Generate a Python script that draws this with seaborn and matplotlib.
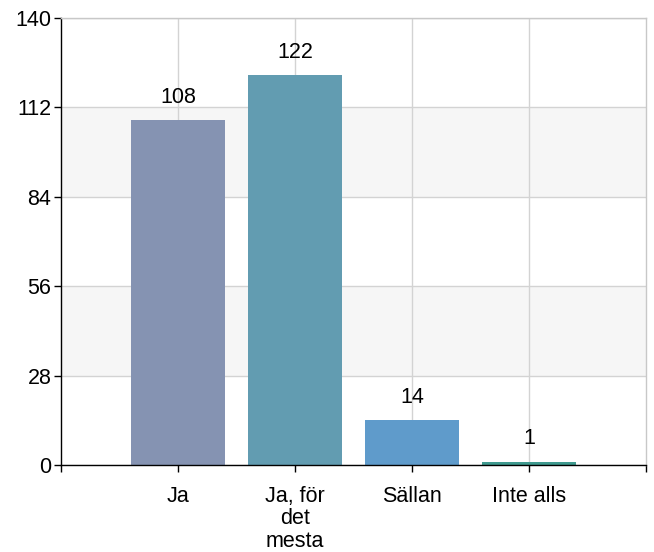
import pandas as pd
import matplotlib.pyplot as plt
import seaborn as sns

# data
categories = ["Ja", "Ja, för det mesta", "Sällan", "Inte alls"]
tick_labels = ["Ja", "Ja, för\ndet\nmesta", "Sällan", "Inte alls"]
counts = [108, 122, 14, 1]
bar_colors = ["#8593b2", "#629cb1", "#5f9bcb", "#3f9a8f"]
y_ticks = [0, 28, 56, 84, 112, 140]

df = pd.DataFrame({"answer": categories, "count": counts})

sns.set_style("white")
plt.rcParams["font.family"] = ["Liberation Sans", "DejaVu Sans"]
plt.rcParams["text.color"] = "black"
plt.rcParams["xtick.color"] = "black"
plt.rcParams["ytick.color"] = "black"
fs = 15.5

fig = plt.figure(figsize=(6.54, 5.52), dpi=100)
ax = fig.add_axes([0.0933, 0.1576, 0.8945, 0.8098])

# alternating bands
for lo, hi in [(28, 56), (84, 112)]:
    ax.axhspan(lo, hi, color="#f6f6f6", zorder=0, lw=0)

sns.barplot(data=df, x="answer", y="count", hue="answer", order=categories,
            palette=bar_colors, legend=False, width=0.8, ax=ax,
            saturation=1, zorder=3, edgecolor="none")

for c in ax.containers:
    ax.bar_label(c, padding=9, fontsize=fs, color="black")

ax.set_xlim(-1, 4)
ax.set_ylim(0, 140)
ax.set_xticks([-1, 0, 1, 2, 3, 4])
ax.set_xticklabels([""] + tick_labels + [""], fontsize=fs, va="top", linespacing=1.1)
ax.set_yticks(y_ticks)
ax.set_yticklabels([str(v) for v in y_ticks], fontsize=fs)

for v in y_ticks:
    ax.axhline(v, color="#d3d3d3", lw=1, zorder=1)
for x in [0, 1, 2, 3]:
    ax.axvline(x, color="#d3d3d3", lw=1, zorder=1)

ax.tick_params(axis="both", direction="out", length=5, width=1, color="black",
               labelcolor="black", bottom=True, left=True)
ax.tick_params(axis="x", pad=10)
ax.tick_params(axis="y", pad=2)
ax.set_xlabel("")
ax.set_ylabel("")

ax.spines["left"].set_color("black")
ax.spines["bottom"].set_color("black")
ax.spines["top"].set_color("#c8c8c8")
ax.spines["right"].set_color("#c8c8c8")
for s in ax.spines.values():
    s.set_linewidth(1)
    s.set_zorder(4)

plt.savefig("out.png", dpi=100)
